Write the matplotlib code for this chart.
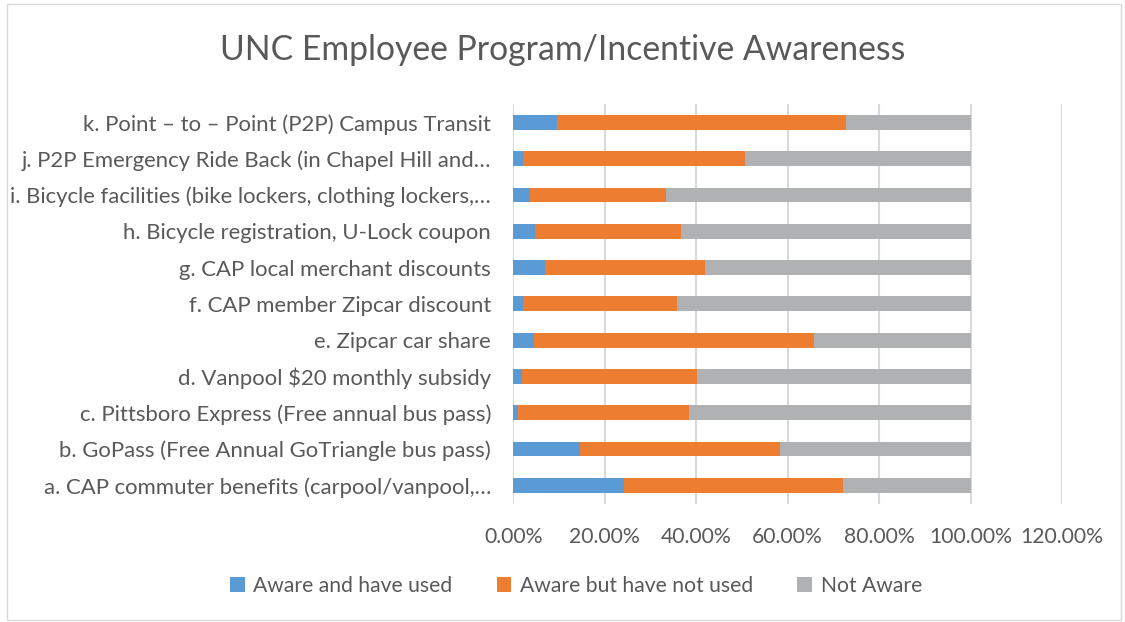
import numpy as np
import matplotlib
matplotlib.use('Agg')
import matplotlib.pyplot as plt
from matplotlib.patches import Rectangle

plt.rcParams['font.family'] = ['Lato', 'DejaVu Sans']

categories = [
    'a. CAP commuter benefits (carpool/vanpool,…',
    'b. GoPass (Free Annual GoTriangle bus pass)',
    'c. Pittsboro Express (Free annual bus pass)',
    'd. Vanpool $20 monthly subsidy',
    'e. Zipcar car share',
    'f. CAP member Zipcar discount',
    'g. CAP local merchant discounts',
    'h. Bicycle registration, U-Lock coupon',
    'i. Bicycle facilities (bike lockers, clothing lockers,…',
    'j. P2P Emergency Ride Back (in Chapel Hill and…',
    'k. Point – to – Point (P2P) Campus Transit',
]
# cumulative edges (percent)
aware_used = [24.2, 14.6, 1.0, 1.8, 4.5, 2.1, 6.9, 4.7, 3.6, 2.1, 9.6]
aware_edge = [72.1, 58.3, 38.4, 40.2, 65.7, 35.7, 41.9, 36.7, 33.4, 50.6, 72.7]

used = np.array(aware_used) / 100
not_used = (np.array(aware_edge) - np.array(aware_used)) / 100
not_aware = 1 - used - not_used

text_col = '#595959'
fig = plt.figure(figsize=(11.25, 6.22), dpi=100)
ax = fig.add_axes([0.4563, 1 - 503.5 / 622, 0.9440 - 0.4563, (503.5 - 104.2) / 622])

y = np.arange(len(categories))
h = 0.41
ax.barh(y, used, h, color='#5B9BD5', label='Aware and have used', zorder=3)
ax.barh(y, not_used, h, left=used, color='#ED7D31', label='Aware but have not used', zorder=3)
ax.barh(y, not_aware, h, left=used + not_used, color='#B0B1B3', label='Not Aware', zorder=3)

ax.set_xlim(0, 1.2)
ax.set_ylim(-0.5, len(categories) - 0.5)
ax.set_xticks(np.arange(0, 1.21, 0.2))
ax.set_xticklabels([f'{v * 100:.2f}%' for v in np.arange(0, 1.21, 0.2)])
ax.set_yticks(y)
ax.set_yticklabels(categories)
ax.tick_params(axis='y', length=0, labelsize=15.9, colors=text_col, pad=16)
ax.tick_params(axis='x', length=0, labelsize=15.2, colors=text_col, pad=17)
ax.grid(axis='x', color='#D9D9D9', linewidth=1.5, zorder=0)
for s in ax.spines.values():
    s.set_visible(False)

fig.suptitle('UNC Employee Program/Incentive Awareness', y=0.945, fontsize=24.3,
             color=text_col)

leg = fig.legend(loc='center', bbox_to_anchor=(0.512, 1 - 586 / 622), ncol=3, frameon=False,
                 fontsize=15.2, handlelength=0.7, handleheight=0.7, handletextpad=0.4,
                 columnspacing=2.1)
for t in leg.get_texts():
    t.set_color(text_col)

fig.patches.append(Rectangle((0.006, 0.004), 0.99, 0.99, transform=fig.transFigure,
                             fill=False, edgecolor='#D9D9D9', linewidth=1))

fig.savefig('out.png', dpi=100)
